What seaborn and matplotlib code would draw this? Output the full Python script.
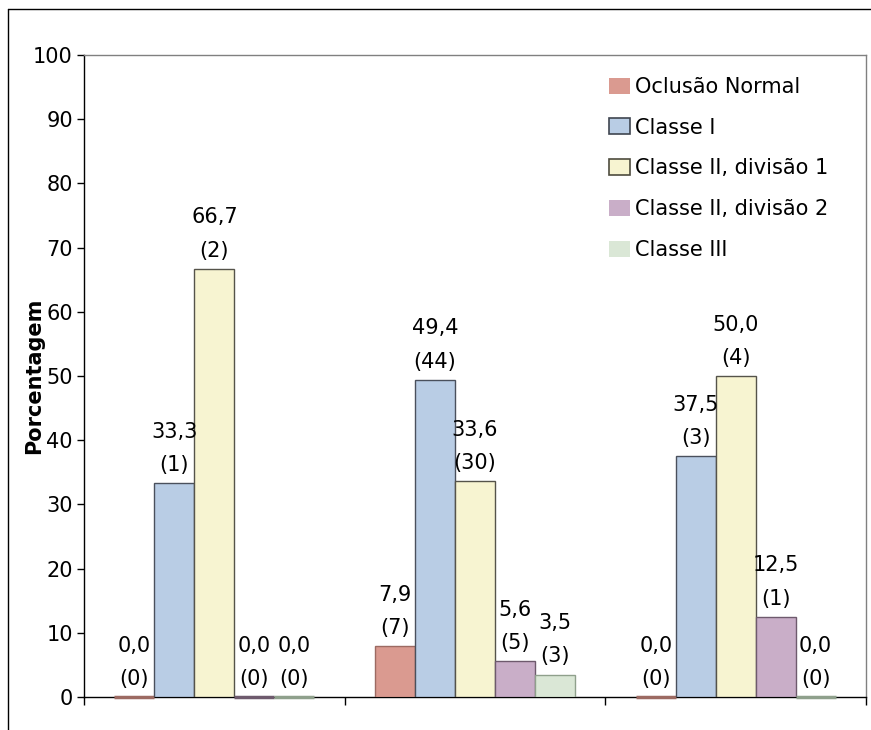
import matplotlib
matplotlib.use("Agg")
import matplotlib.pyplot as plt
from matplotlib.lines import Line2D
from matplotlib.patches import Patch
import seaborn as sns
import pandas as pd

# Occlusion classes (legend order) and their bar colours
classes = ["Oclusão Normal", "Classe I", "Classe II, divisão 1",
           "Classe II, divisão 2", "Classe III"]
fill_colors = ["#DA9A90", "#B9CDE5", "#F7F4D1", "#C9AEC8", "#DAE7D6"]
edge_colors = ["#9C6A62", "#4A505C", "#55534A", "#6E5A6D", "#8FA08C"]
legend_edges = ["none", "#3F4650", "#4E4C3E", "none", "none"]

# Three groups of subjects, shown without x labels
groups = ["G1", "G2", "G3"]

# Percentages per class for each group
pct_normal = [0.0, 7.9, 0.0]
pct_c1 = [33.3, 49.4, 37.5]
pct_c2d1 = [66.7, 33.6, 50.0]
pct_c2d2 = [0.0, 5.6, 12.5]
pct_c3 = [0.0, 3.5, 0.0]

# Absolute counts per class for each group
n_normal = [0, 7, 0]
n_c1 = [1, 44, 3]
n_c2d1 = [2, 30, 4]
n_c2d2 = [0, 5, 1]
n_c3 = [0, 3, 0]

pcts = [pct_normal, pct_c1, pct_c2d1, pct_c2d2, pct_c3]
counts = [n_normal, n_c1, n_c2d1, n_c2d2, n_c3]

rows = []
for cls, pv, nv in zip(classes, pcts, counts):
    for g, p, n in zip(groups, pv, nv):
        rows.append({"grupo": g, "classe": cls, "pct": p, "n": n})
df = pd.DataFrame(rows)

sns.set_theme(style="white")
plt.rcParams["font.family"] = ["DejaVu Sans"]
plt.rcParams["text.color"] = "black"
plt.rcParams["axes.labelcolor"] = "black"
plt.rcParams["xtick.color"] = "black"
plt.rcParams["ytick.color"] = "black"
FS = 15

fig = plt.figure(figsize=(8.71, 7.30), dpi=100)
ax = fig.add_axes([84 / 871, 1 - 697 / 730, (866 - 84) / 871, (697 - 55) / 730])

sns.barplot(data=df, x="grupo", y="pct", hue="classe", order=groups,
            hue_order=classes, palette=fill_colors, width=0.767,
            linewidth=1.0, edgecolor="#555555", errorbar=None,
            saturation=1, ax=ax, legend=False)

# Per-series outlines and value labels (percentage over count)
for ci, cont in enumerate(ax.containers):
    for bi, bar in enumerate(cont):
        bar.set_edgecolor(edge_colors[ci])
        bar.set_zorder(3)
        if bar.get_height() == 0:
            # empty category: only the outline remains, resting on the axis
            bar.set_clip_on(False)
            bar.set_linewidth(2.5)
        x = bar.get_x() + bar.get_width() / 2
        top = bar.get_height()
        p = pcts[ci][bi]
        n = counts[ci][bi]
        ax.annotate(f"({n})", (x, top), xytext=(0, 13), textcoords="offset points",
                    ha="center", va="center", fontsize=FS, color="black")
        ax.annotate(f"{p:.1f}".replace(".", ","), (x, top), xytext=(0, 37),
                    textcoords="offset points", ha="center", va="center",
                    fontsize=FS, color="black")

ax.set_ylim(0, 100)
ax.set_xlim(-0.5, 2.5)
ax.set_yticks(range(0, 101, 10))
ax.set_xticks([-0.5, 0.5, 1.5, 2.5])
ax.set_xticklabels([])
ax.set_xlabel("")
ax.set_ylabel("Porcentagem", fontsize=FS, fontweight="bold", color="black")
ax.yaxis.set_label_coords(-(84 - 44) / 782, 0.5)
ax.tick_params(axis="y", labelsize=FS, direction="out", length=5, width=1,
               color="black", left=True, pad=3)
ax.tick_params(axis="x", direction="out", length=6, width=1, color="black",
               bottom=True)
for side in ["left", "bottom"]:
    ax.spines[side].set_color("black")
    ax.spines[side].set_linewidth(1.0)
for side in ["top", "right"]:
    ax.spines[side].set_color("#808080")
    ax.spines[side].set_linewidth(1.0)

handles = [Patch(facecolor=fc, edgecolor=ec, linewidth=1.2)
           for fc, ec in zip(fill_colors, legend_edges)]
leg = ax.legend(handles, classes, loc="upper left",
                bbox_to_anchor=(0.671, 0.966), frameon=False, fontsize=FS,
                handlelength=1.0, handleheight=0.8, handletextpad=0.25,
                labelspacing=1.0, borderpad=0, borderaxespad=0)
for t in leg.get_texts():
    t.set_color("black")

# Outer chart frame (top and left edges visible)
fig.add_artist(Line2D([8 / 871, 8 / 871], [0, 1 - 9 / 730], transform=fig.transFigure,
                      color="black", linewidth=1.0))
fig.add_artist(Line2D([8 / 871, 1], [1 - 9 / 730, 1 - 9 / 730], transform=fig.transFigure,
                      color="black", linewidth=1.0))

fig.savefig("out.png", dpi=100, facecolor="white")
